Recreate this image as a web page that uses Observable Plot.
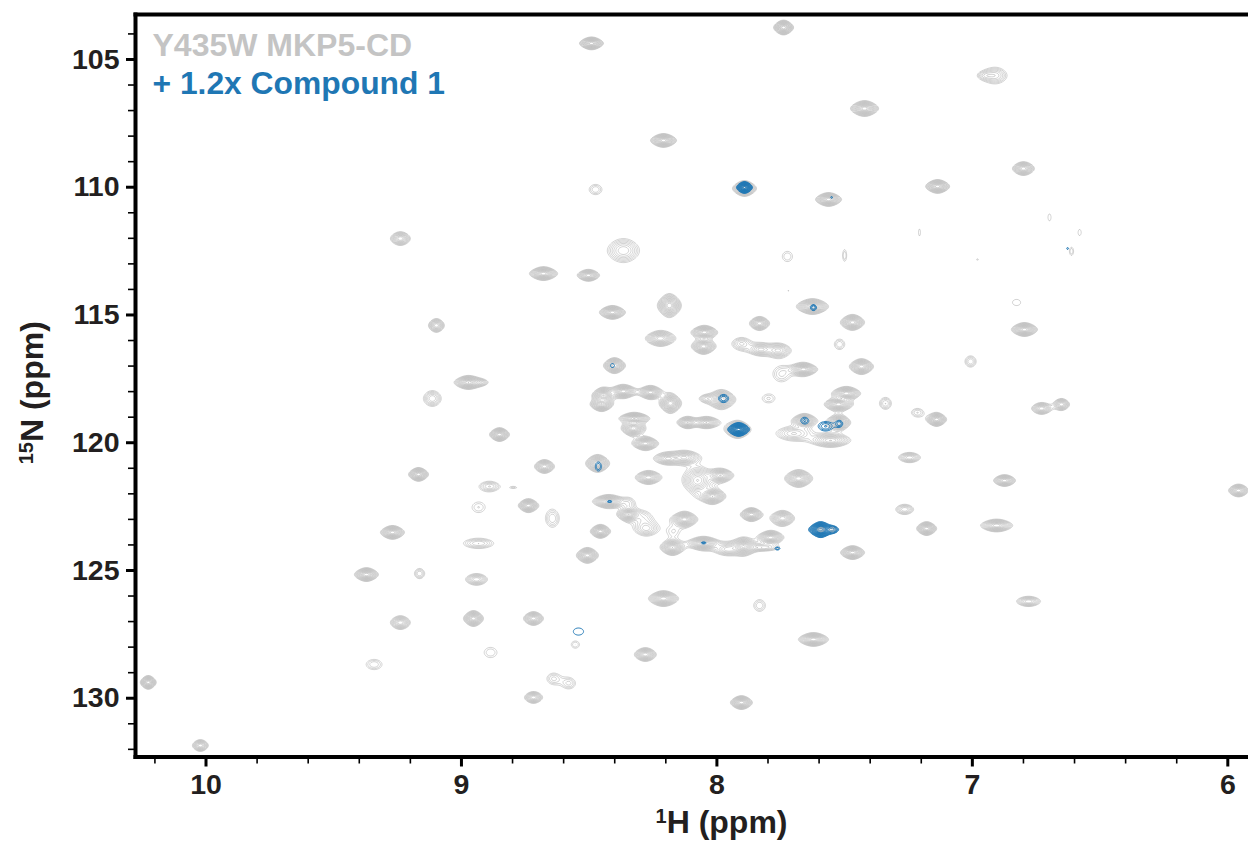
<!DOCTYPE html>
<html>
<head>
<meta charset="utf-8">
<script src="https://cdn.jsdelivr.net/npm/d3@7"></script>
<script src="https://cdn.jsdelivr.net/npm/@observablehq/plot@0.6"></script>
<style>html,body{margin:0;padding:0;background:#fff}svg{display:block}</style>
</head>
<body>
<div id="chart"></div>
<script>
// Reference spectrum peaks: centre (ppm), half-extent (ppm), contour levels
const grayH = [7.739,8.491,6.909,7.422,8.209,8.475,7.892,7.563,7.136,6.800,
7.724,7.500,8.366,8.679,8.503,9.239,6.698,7.207,6.580,6.612,
6.980,6.827,6.796,7.007,7.469,7.434,8.409,8.186,7.626,7.833,
8.221,8.049,8.052,7.904,7.829,7.759,7.520,8.401,7.661,7.747,
8.444,8.452,8.366,8.260,8.182,7.982,7.798,7.493,7.524,7.340,
8.323,8.327,8.115,8.041,7.919,7.657,7.524,7.700,7.555,8.280,
8.467,8.193,8.127,8.268,8.076,7.986,8.017,7.680,8.424,8.346,
8.346,8.276,8.287,8.127,7.865,7.743,8.456,8.170,8.174,8.052,
7.958,7.896,7.790,7.818,7.469,8.507,8.209,7.833,7.622,7.265,
8.973,9.114,8.851,8.675,9.168,8.890,8.796,8.933,8.738,8.644,
9.270,8.933,9.372,9.164,8.941,8.953,8.718,9.239,9.098,10.226,
10.022,9.342,8.886,8.718,8.640,8.579,8.554,8.280,7.904,6.780,
5.958,6.874,6.905,7.179,7.246,6.729,6.651,7.140,7.215,7.720,
6.948,8.041,8.926];
const grayN = [103.75,104.37,105.63,106.92,108.17,110.09,110.05,110.48,109.97,109.27,
112.71,112.67,112.48,113.38,113.45,112.01,111.18,111.77,111.77,112.51,
112.83,114.51,115.57,116.82,115.29,117.02,114.90,114.63,114.67,115.33,
115.92,115.68,116.23,116.12,116.35,116.39,116.15,116.98,117.13,117.33,
118.15,118.50,117.99,118.03,118.46,118.31,118.27,118.07,118.50,118.46,
119.05,119.44,119.21,119.21,119.48,119.13,119.21,119.64,119.91,120.03,
120.81,120.62,120.58,121.36,121.48,121.28,122.10,121.40,122.30,122.81,
122.38,123.36,122.96,123.00,122.81,122.96,123.47,123.47,124.10,123.94,
124.18,124.06,123.71,124.10,124.30,124.41,126.10,126.37,127.70,122.61,
117.64,118.27,119.68,120.93,121.24,121.71,121.75,122.53,122.46,122.96,
123.51,123.94,125.16,125.12,125.35,126.88,126.88,127.04,115.41,129.38,
131.85,128.68,128.21,129.97,129.23,129.42,127.90,128.29,130.17,126.21,
121.87,121.48,123.24,123.36,120.58,118.66,118.50,119.09,118.82,114.04,
105.63,118.27,117.64];
const grayHalfH = [.039,.047,.043,.055,.051,.025,.047,.051,.047,.043,
.020,.008,.063,.055,.043,.039,.006,.004,.006,.008,
.004,.016,.051,.022,.047,.047,.051,.047,.063,.039,
.059,.051,.047,.035,.047,.047,.020,.043,.055,.031,
.043,.043,.051,.047,.043,.055,.023,.055,.055,.023,
.059,.047,.039,.051,.051,.047,.047,.067,.078,.051,
.047,.051,.059,.051,.059,.051,.051,.055,.063,.043,
.016,.043,.023,.051,.043,.047,.039,.014,.047,.063,
.051,.051,.051,.055,.047,.043,.059,.023,.059,.035,
.055,.035,.039,.039,.039,.039,.010,.025,.039,.027,
.047,.059,.047,.020,.043,.039,.039,.039,.031,.031,
.031,.031,.025,.035,.024,.024,.016,.043,.043,.047,
.039,.043,.063,.039,.043,.039,.031,.039,.023,.003,
.023,.023,.023];
const grayHalfN = [.29,.25,.31,.31,.27,.20,.31,.27,.27,.27,
.20,.23,.47,.27,.23,.27,.14,.14,.12,.16,
.03,.12,.27,.22,.31,.31,.27,.47,.31,.27,
.31,.27,.31,.23,.23,.27,.20,.31,.27,.27,
.31,.27,.27,.27,.39,.39,.16,.27,.27,.23,
.23,.31,.23,.23,.35,.27,.31,.27,.27,.27,
.35,.23,.27,.27,.55,.27,.31,.35,.27,.27,
.16,.27,.20,.31,.27,.31,.27,.12,.31,.27,
.23,.35,.27,.12,.27,.31,.31,.23,.27,.20,
.27,.31,.27,.27,.27,.20,.03,.20,.27,.35,
.27,.20,.27,.20,.23,.31,.27,.27,.27,.27,
.23,.20,.20,.23,.20,.20,.14,.27,.27,.20,
.25,.23,.25,.27,.20,.23,.23,.27,.16,.02,
.12,.12,.10];
const grayLevels = [14,14,5,14,14,3,15,14,14,12,
2,2,7,14,12,10,1,1,1,2,
1,1,14,4,14,14,14,14,14,12,
12,14,14,5,8,8,3,14,14,3,
14,14,14,14,14,14,2,14,14,4,
14,14,12,12,14,14,14,6,10,14,
14,10,10,12,10,12,14,14,14,14,
2,6,2,14,14,12,14,1,14,14,
7,14,14,5,14,14,14,3,14,6,
14,6,14,12,14,5,1,2,14,4,
14,5,14,4,8,14,12,10,10,14,
10,3,2,10,3,3,2,12,14,8,
12,12,12,14,8,10,10,14,3,1,
3,4,4];

const blueH = [7.892,7.622,8.409,7.974,7.915,7.657,7.575,7.520,8.464,8.420,8.052,7.763,7.594,7.547,8.542,6.627,7.551];
const blueN = [110.01,114.71,116.98,118.27,119.48,119.13,119.36,119.25,120.93,122.30,123.92,124.14,123.40,123.40,127.39,112.40,110.40];
const blueHalfH = [.031,.012,.008,.020,.043,.014,.027,.010,.012,.010,.010,.010,.047,.020,.020,.004,.004];
const blueHalfN = [.23,.12,.08,.16,.27,.12,.18,.10,.18,.04,.04,.06,.31,.12,.14,.04,.04];
const blueLevels = [14,3,1,3,16,2,3,2,2,2,2,2,18,6,1,1,1];

const coreH = [7.594,7.547];
const coreN = [123.40,123.40];
const coreHalfH = [.012,.008];
const coreHalfN = [.08,.08];
const coreLevels = [2,1];

const xMajor = [10,9,8,7,6];
const xMinor = [10.2,9.8,9.6,9.4,9.2,8.8,8.6,8.4,8.2,7.8,7.6,7.4,7.2,6.8,6.6,6.4,6.2];
const yMajor = [105,110,115,120,125,130];
const yMinor = [104,106,107,108,109,111,112,113,114,116,117,118,119,121,122,123,124,126,127,128,129,131,132];

const sampleLabel = "Y435W MKP5-CD";
const ligandLabel = "+ 1.2x Compound 1";
const xLabel = "1H (ppm)";
const yLabel = "15N (ppm)";

const ratio = 1.2;
const thresholds = d3.range(0, 24).map(k => ratio ** k);
const cross = 0.3;

// Spectrum intensity as a sum of peak line shapes; contour levels are geometric
function spectrum(H, N, halfH, halfN, levels) {
  const peaks = H.map((h, i) => {
    const A = ratio ** levels[i];
    const s = Math.sqrt(Math.sqrt(A) - 1);
    return {h, n: N[i], A, wh: halfH[i] / s, wn: halfN[i] / s};
  });
  return (x, y) => {
    let v = 0;
    for (const p of peaks) {
      const u = (x - p.h) / p.wh;
      if (u > 6 || u < -6) continue;
      const w = (y - p.n) / p.wn;
      if (w > 6 || w < -6) continue;
      const uu = u * u, ww = w * w;
      const d = 1 + uu + ww + cross * uu * ww;
      v += p.A / (d * d);
    }
    return v;
  };
}

const xDomain = [10.276, 5.919];
const yDomain = [103.24, 132.30];
const font = "'Liberation Sans', Arial, sans-serif";
const ink = "#231f20";

function layer(fn, color, width) {
  return Plot.contour({
    value: fn,
    x1: xDomain[0], x2: xDomain[1], y1: yDomain[0], y2: yDomain[1],
    thresholds, pixelSize: 1, fill: "none", stroke: color, strokeWidth: width
  });
}

const chart = Plot.plot({
  width: 1248,
  height: 841,
  marginLeft: 135,
  marginTop: 14,
  marginRight: 0,
  marginBottom: 84.5,
  style: {fontFamily: font, background: "#fff"},
  x: {domain: xDomain, range: [135, 1248]},
  y: {domain: yDomain, range: [14, 756.5]},
  marks: [
    layer(spectrum(grayH, grayN, grayHalfH, grayHalfN, grayLevels), "#bdbdbd", 0.65),
    layer(spectrum(blueH, blueN, blueHalfH, blueHalfN, blueLevels), "#1f77b4", 0.9),
    layer(spectrum(coreH, coreN, coreHalfH, coreHalfN, coreLevels), "#bdbdbd", 0.6),
    Plot.axisX({ticks: xMinor, anchor: "bottom", tickSize: 7, strokeWidth: 1.6, tickFormat: () => "", label: null, stroke: "#000"}),
    Plot.axisX({ticks: xMajor, anchor: "bottom", tickSize: 10, strokeWidth: 3, tickPadding: 7, label: null, stroke: "#000",
      fontSize: 28.5, fontWeight: "bold", fill: ink, tickFormat: d => d}),
    Plot.axisY({ticks: yMinor, anchor: "left", tickSize: 7, strokeWidth: 1.6, tickFormat: () => "", label: null, stroke: "#000"}),
    Plot.axisY({ticks: yMajor, anchor: "left", tickSize: 9, strokeWidth: 3, tickPadding: 7, label: null, stroke: "#000",
      fontSize: 28.5, fontWeight: "bold", fill: ink, tickFormat: d => d}),
    Plot.frame({anchor: "top", stroke: "#000", strokeWidth: 4}),
    Plot.frame({anchor: "left", stroke: "#000", strokeWidth: 4}),
    Plot.frame({anchor: "bottom", stroke: "#000", strokeWidth: 4}),
    Plot.text([sampleLabel], {text: d => d, frameAnchor: "top-left", lineAnchor: "middle", textAnchor: "start", dx: 17, dy: 31,
      fontSize: 32, fontWeight: "bold", fill: "#c4c4c4"}),
    Plot.text([ligandLabel], {text: d => d, frameAnchor: "top-left", lineAnchor: "middle", textAnchor: "start", dx: 17, dy: 69,
      fontSize: 31.8, fontWeight: "bold", fill: "#1f77b4"}),
    Plot.text([xLabel], {text: d => d, frameAnchor: "bottom", lineAnchor: "middle", dx: 29.5, dy: 66,
      fontSize: 32, fontWeight: "bold", fill: ink, className: "sup-label"}),
    Plot.text([yLabel], {text: d => d, frameAnchor: "left", lineAnchor: "middle", textAnchor: "middle", rotate: -90, dx: -103, dy: 7,
      fontSize: 32, fontWeight: "bold", fill: ink, className: "sup-label"})
  ]
});
// Isotope numbers are set as bold superscripts inside the same text element
d3.select(chart).selectAll(".sup-label text").each(function () {
  const t = this.textContent, m = t.match(/^(\d+)(.*)$/);
  if (!m) return;
  this.textContent = "";
  const s = d3.select(this);
  s.append("tspan").attr("font-size", 20).attr("dy", -10).text(m[1]);
  s.append("tspan").attr("dy", 10).text(m[2]);
});
document.getElementById("chart").append(chart);
</script>
</body>
</html>
